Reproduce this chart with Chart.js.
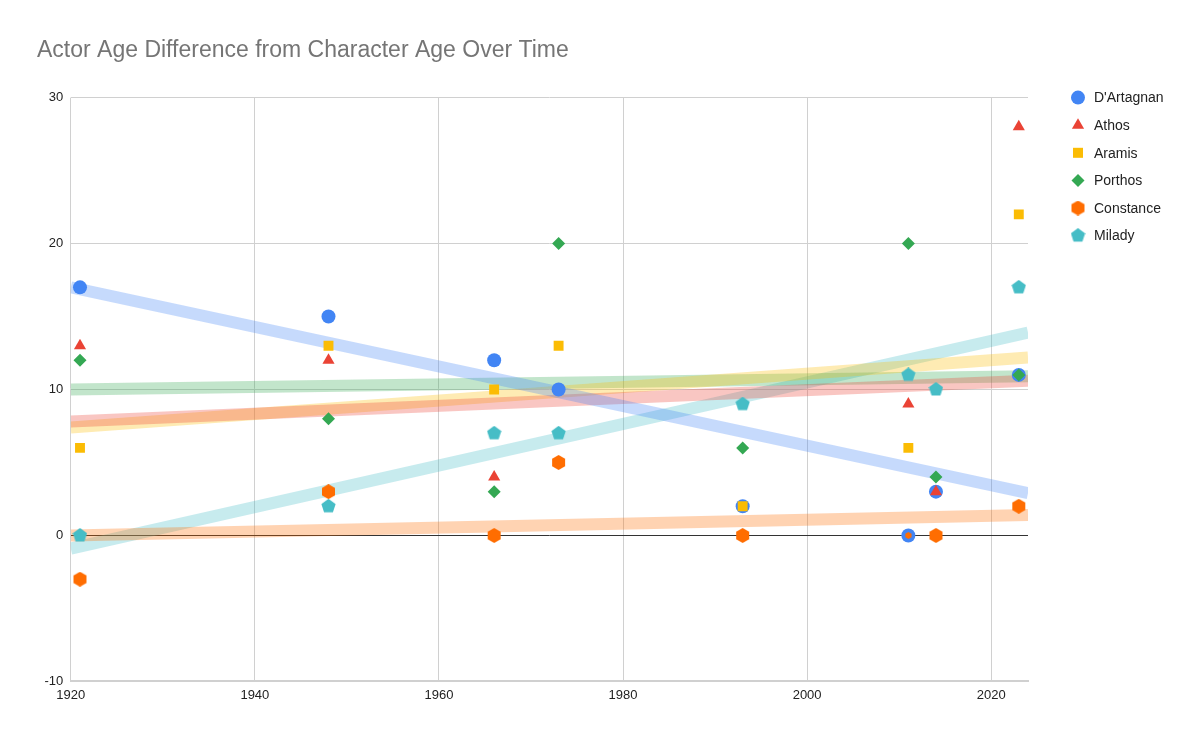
<!DOCTYPE html>
<html>
<head>
<meta charset="utf-8">
<script src="https://cdn.jsdelivr.net/npm/chart.js@4"></script>
<style>
  html, body { margin: 0; padding: 0; background: #fff; }
  #wrap { width: 1200px; height: 742px; }
</style>
</head>
<body>
<div id="wrap"><canvas id="chart"></canvas></div>
<script>
// release years of each adaptation
const years = [1921, 1948, 1966, 1973, 1993, 2011, 2014, 2023];

// actor age minus character age
const dartagnan = [17, 15, 12, 10, 2, 0, 3, 11];
const athos = [13, 12, 4, null, null, 9, 3, 28];
const aramis = [6, 13, 10, 13, 2, 6, null, 22];
const porthos = [12, 8, 3, 20, 6, 20, 4, 11];
const constance = [-3, 3, 0, 5, 0, 0, 0, 2];
const milady = [0, 2, 7, 7, 9, 11, 10, 17];

// trendline ends
const trendYears = [1920, 2024];
const trendStart = [17.0, 7.8, 7.4, 10.0, 0.0, -0.9];
const trendEnd = [2.9, 10.6, 12.2, 10.9, 1.4, 13.9];

// axis ticks
const xTicks = [1920, 1940, 1960, 1980, 2000, 2020];
const yTicks = [-10, 0, 10, 20, 30];

const names = ['D\'Artagnan', 'Athos', 'Aramis', 'Porthos', 'Constance', 'Milady'];
const colors = ['#4285F4', '#EA4335', '#FBBC04', '#34A853', '#FF6D01', '#46BDC6'];
const trendColors = [
  'rgba(66, 133, 244, 0.3)',
  'rgba(234, 67, 53, 0.3)',
  'rgba(251, 188, 4, 0.3)',
  'rgba(52, 168, 83, 0.3)',
  'rgba(255, 109, 1, 0.3)',
  'rgba(70, 189, 198, 0.3)',
];
const FONT = 'Liberation Sans, Arial, sans-serif';

// Chart.js has no hexagon / pentagon, so draw them on small canvases
function polygonImage(sides, color, size, startAngle) {
  const c = document.createElement('canvas');
  c.width = size;
  c.height = size;
  const ctx = c.getContext('2d');
  const r = size / 2;
  ctx.fillStyle = color;
  ctx.beginPath();
  for (let i = 0; i < sides; i++) {
    const a = startAngle + (i * 2 * Math.PI) / sides;
    const px = r + r * Math.cos(a);
    const py = r + r * Math.sin(a);
    if (i === 0) ctx.moveTo(px, py);
    else ctx.lineTo(px, py);
  }
  ctx.closePath();
  ctx.fill();
  return c;
}

const hexagon = polygonImage(6, colors[4], 15, -Math.PI / 2);
const smallHexagon = polygonImage(6, colors[4], 7, -Math.PI / 2);
const pentagon = polygonImage(5, colors[5], 15, -Math.PI / 2);

const series = [dartagnan, athos, aramis, porthos, constance, milady];
const styles = ['circle', 'triangle', 'rect', 'rectRot', hexagon, pentagon];
const radii = [7, 7, 7, 6.5, 7, 7];

const datasets = [];
series.forEach((values, i) => {
  let style = styles[i];
  if (i === 4) {
    // Constance 2011 sits inside D'Artagnan's marker
    style = years.map((y) => (y === 2011 ? smallHexagon : hexagon));
  }
  datasets.push({
    label: names[i],
    data: years.map((y, j) => ({ x: y, y: values[j] })),
    backgroundColor: colors[i],
    borderColor: colors[i],
    borderWidth: 0,
    pointStyle: style,
    pointRadius: radii[i],
    pointHoverRadius: radii[i],
    showLine: false,
    order: 6 - i,
  });
});
series.forEach((values, i) => {
  datasets.push({
    label: names[i] + ' trend',
    type: 'line',
    data: trendYears.map((y, j) => ({ x: y, y: j === 0 ? trendStart[i] : trendEnd[i] })),
    borderColor: trendColors[i],
    borderWidth: 12,
    pointRadius: 0,
    fill: false,
    order: 20,
  });
});

// legend on the right, drawn by hand to place it like the original
const sideLegend = {
  id: 'sideLegend',
  afterDraw(chart) {
    const ctx = chart.ctx;
    const top = chart.chartArea.top;
    ctx.save();
    ctx.font = '14px ' + FONT;
    ctx.textBaseline = 'middle';
    names.forEach((name, i) => {
      const cx = 1078;
      const cy = top + i * 27.6;
      const s = styles[i];
      ctx.fillStyle = colors[i];
      ctx.beginPath();
      if (s === 'circle') {
        ctx.arc(cx, cy, 7, 0, Math.PI * 2);
        ctx.fill();
      } else if (s === 'triangle') {
        ctx.moveTo(cx, cy - 7);
        ctx.lineTo(cx + 6.1, cy + 3.5);
        ctx.lineTo(cx - 6.1, cy + 3.5);
        ctx.closePath();
        ctx.fill();
      } else if (s === 'rect') {
        ctx.fillRect(cx - 5, cy - 5, 10, 10);
      } else if (s === 'rectRot') {
        ctx.moveTo(cx, cy - 6.5);
        ctx.lineTo(cx + 6.5, cy);
        ctx.lineTo(cx, cy + 6.5);
        ctx.lineTo(cx - 6.5, cy);
        ctx.closePath();
        ctx.fill();
      } else {
        ctx.drawImage(s, cx - s.width / 2, cy - s.height / 2);
      }
      ctx.fillStyle = '#222';
      ctx.fillText(name, 1094, cy + 1);
    });
    ctx.restore();
  },
};

new Chart(document.getElementById('chart'), {
  type: 'scatter',
  data: { datasets: datasets },
  plugins: [sideLegend],
  options: {
    responsive: true,
    maintainAspectRatio: false,
    animation: false,
    layout: {
      padding: { left: 37, right: 172, top: 0, bottom: 33 },
    },
    plugins: {
      title: {
        display: true,
        text: 'Actor Age Difference from Character Age Over Time',
        align: 'start',
        color: '#757575',
        font: { family: FONT, size: 23, weight: 'normal' },
        padding: { top: 37, bottom: 33 },
      },
      legend: { display: false },
      tooltip: { enabled: false },
    },
    scales: {
      x: {
        type: 'linear',
        min: 1920,
        max: 2024,
        afterBuildTicks: (axis) => {
          axis.ticks = xTicks.map((v) => ({ value: v }));
        },
        ticks: {
          color: '#222',
          padding: 6,
          font: { family: FONT, size: 13 },
          callback: (value) => String(value),
        },
        grid: { color: '#d0d0d0', drawTicks: false },
        border: { color: '#d0d0d0', width: 2 },
      },
      y: {
        min: -10,
        max: 30,
        afterBuildTicks: (axis) => {
          axis.ticks = yTicks.map((v) => ({ value: v }));
        },
        ticks: {
          color: '#222',
          padding: 7.5,
          font: { family: FONT, size: 13 },
        },
        grid: {
          drawTicks: false,
          color: (ctx) => (ctx.tick && ctx.tick.value === 0 ? '#333' : '#d0d0d0'),
        },
        border: { display: false },
      },
    },
  },
});
</script>
</body>
</html>
